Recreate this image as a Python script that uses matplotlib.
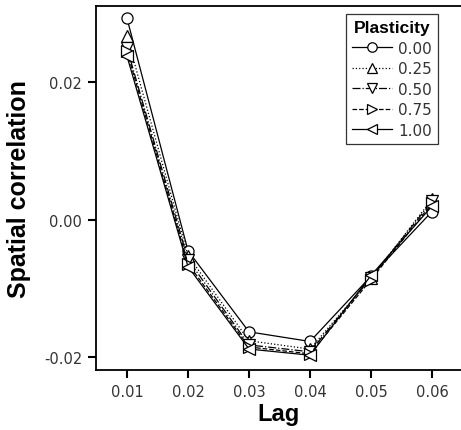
import matplotlib
matplotlib.use("Agg")
import matplotlib.pyplot as plt

plt.rcParams['font.family'] = ['Liberation Sans', 'DejaVu Sans']

lags = [0.01, 0.02, 0.03, 0.04, 0.05, 0.06]
plasticity = ['0.00', '0.25', '0.50', '0.75', '1.00']

# spatial correlation per plasticity level
corr_000 = [0.0293, -0.0045, -0.0163, -0.0177, -0.0082, 0.0012]
corr_025 = [0.0267, -0.0052, -0.0176, -0.0188, -0.0085, 0.0030]
corr_050 = [0.0250, -0.0058, -0.0182, -0.0192, -0.0084, 0.0027]
corr_075 = [0.0245, -0.0064, -0.0185, -0.0195, -0.0087, 0.0024]
corr_100 = [0.0238, -0.0068, -0.0188, -0.0197, -0.0081, 0.0020]

series = [corr_000, corr_025, corr_050, corr_075, corr_100]
markers = ['o', '^', 'v', '>', '<']
styles = ['-', ':', '-.', '--', '-']

fig = plt.figure(figsize=(4.61, 4.31), dpi=100)
ax = fig.add_axes([96 / 461, 1 - 371 / 431, (461 - 96) / 461, (371 - 7) / 431])

for vals, m, ls, lab in zip(series, markers, styles, plasticity):
    ax.plot(lags, vals, linestyle=ls, marker=m, color='black', lw=0.9,
            markersize=8, markerfacecolor='white', markeredgewidth=0.9,
            label=lab)

ax.set_xlim(0.00492, 0.06475)
ax.set_ylim(-0.02185, 0.0311)
ax.set_xticks(lags)
ax.set_xticklabels(['0.01', '0.02', '0.03', '0.04', '0.05', '0.06'],
                   family='DejaVu Sans')
ax.set_yticks([-0.02, 0.0, 0.02])
ax.set_yticklabels(['-0.02', '0.00', '0.02'], family='DejaVu Sans')

ax.spines['right'].set_visible(False)
for s in ['left', 'bottom', 'top']:
    ax.spines[s].set_linewidth(1.3)
ax.tick_params(direction='out', length=6, width=1.5, labelsize=10.5,
               labelcolor='#333333', pad=4)

ax.set_xlabel('Lag', fontsize=17, fontweight='bold', labelpad=2)
ax.set_ylabel('Spatial correlation', fontsize=18, fontweight='bold', labelpad=9)

leg = ax.legend(title='Plasticity', loc='upper right', bbox_to_anchor=(0.937, 0.978),
                borderaxespad=0, prop={'family': 'DejaVu Sans', 'size': 11},
                handlelength=2.6, handletextpad=0.4, markerscale=0.85,
                labelspacing=0.36, borderpad=0.4, frameon=True, fancybox=False,
                edgecolor='black', title_fontproperties={'weight': 'bold', 'size': 12.5})
leg.get_frame().set_linewidth(0.9)
for t in leg.get_texts():
    t.set_color('#333333')

fig.savefig('out.png', dpi=100)
